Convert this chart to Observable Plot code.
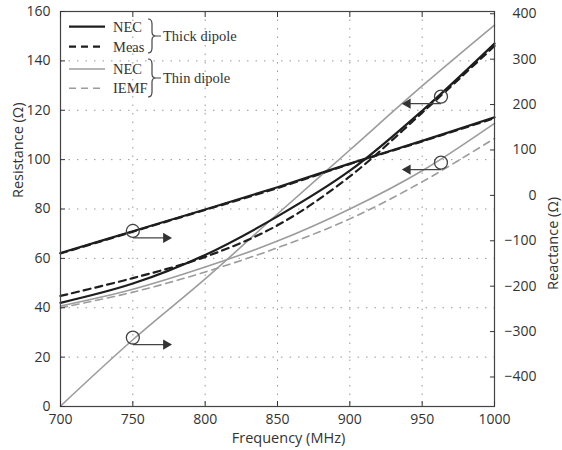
<!DOCTYPE html>
<html><head><meta charset="utf-8">
<script src="https://cdn.jsdelivr.net/npm/d3@7"></script>
<script src="https://cdn.jsdelivr.net/npm/@observablehq/plot@0.6"></script>
<style>body{margin:0;background:#fff;}</style>
</head><body><div id="chart"></div>
<script>
// Frequency samples (MHz)
const freq = [700, 750, 800, 850, 900, 950, 1000];
// Resistance (Ω), left axis
const thickResNEC  = [42, 49.8, 61.4, 77, 95.5, 119.8, 147];
const thickResMeas = [44.8, 52, 60.6, 73.4, 93.2, 119, 146];
const thinResNEC   = [40.7, 47.5, 56.5, 67, 80, 95.5, 114.7];
const thinResIEMF  = [40, 46.3, 54.5, 64.3, 76, 91, 108.6];
// Reactance (Ω), right axis
const thickReactNEC  = [-127, -79, -31, 18, 70, 120, 172];
const thickReactMeas = [-128, -80, -32, 16, 69, 119, 170];
const thinReactNEC   = [-464, -318, -184, -41, 100, 241, 375];

// Axis ticks
const xTicks = [700, 750, 800, 850, 900, 950, 1000];
const resTicks = [0, 20, 40, 60, 80, 100, 120, 140, 160];
const reactTicks = [-400, -300, -200, -100, 0, 100, 200, 300, 400];
const resDomain = [0, 160];
const reactDomain = [-465, 405];

// Axis pointer annotations (frequency, value on resistance scale, arrow end frequency)
const annFreq  = [750, 750, 963, 963];
const annValue = [71.1, 27.9, 125.5, 98.8];
const annEnd   = [773, 773, 940, 940];

// Legend
const legendLabels = ["NEC", "Meas", "NEC", "IEMF"];
const groupLabels = ["Thick dipole", "Thin dipole"];

const toLeft = r => resDomain[0] + (r - reactDomain[0]) * (resDomain[1] - resDomain[0]) / (reactDomain[1] - reactDomain[0]);
const series = (vals, react) => freq.map((f, i) => ({f, v: react ? toLeft(vals[i]) : vals[i]}));
const ann = annFreq.map((f, i) => ({f, v: annValue[i], e: annEnd[i]}));
const fmt = v => v < 0 ? "\u2212" + Math.abs(v) : String(v);

const BLACK = "#1e1e1e", GRAY = "#9c9c9c";

const svg = Plot.plot({
  width: 562, height: 450,
  marginLeft: 60, marginRight: 68, marginTop: 11, marginBottom: 44,
  x: {domain: [700, 1000]},
  y: {domain: resDomain},
  style: {fontFamily: "'Open Sans', sans-serif", fontSize: "14px", color: "#333", background: "#fff", overflow: "visible"},
  marks: [
    Plot.gridX(xTicks, {stroke: "#999", strokeOpacity: 1, strokeDasharray: "1.5,7"}),
    Plot.gridY(resTicks, {stroke: "#999", strokeOpacity: 1, strokeDasharray: "1.5,7"}),
    Plot.line(series(thinReactNEC, true), {x: "f", y: "v", curve: "catmull-rom", stroke: GRAY, strokeWidth: 1.6}),
    Plot.line(series(thinResNEC), {x: "f", y: "v", curve: "catmull-rom", stroke: GRAY, strokeWidth: 1.6}),
    Plot.line(series(thinResIEMF), {x: "f", y: "v", curve: "catmull-rom", stroke: GRAY, strokeWidth: 1.6, strokeDasharray: "7,5"}),
    Plot.line(series(thickReactNEC, true), {x: "f", y: "v", curve: "catmull-rom", stroke: BLACK, strokeWidth: 2.2}),
    Plot.line(series(thickResNEC), {x: "f", y: "v", curve: "catmull-rom", stroke: BLACK, strokeWidth: 2.2}),
    Plot.line(series(thickReactMeas, true), {x: "f", y: "v", curve: "catmull-rom", stroke: BLACK, strokeWidth: 2.2, strokeDasharray: "7,5"}),
    Plot.line(series(thickResMeas), {x: "f", y: "v", curve: "catmull-rom", stroke: BLACK, strokeWidth: 2.2, strokeDasharray: "7,5"}),
    Plot.dot(ann, {x: "f", y: "v", r: 6.5, stroke: "#444", strokeWidth: 1.3, fill: "none"}),
    Plot.link(ann, {x1: "f", x2: "e", y1: "v", y2: "v", dy: 7, stroke: "#444", strokeWidth: 1.3}),
    Plot.dot(ann, {x: "e", y: "v", dy: 7, symbol: "triangle", rotate: d => d.e > d.f ? 90 : -90, r: 3.8, fill: "#333", stroke: "none"}),
    Plot.frame({stroke: "#444", strokeWidth: 1.2}),
    Plot.axisX(xTicks, {tickSize: -5, tickPadding: 13, tickFormat: d => String(d), label: null}),
    Plot.axisX(xTicks, {anchor: "top", tickSize: -5, tickFormat: () => "", label: null}),
    Plot.axisY(resTicks, {tickSize: -5, tickPadding: 15, tickFormat: d => String(d), label: null}),
    Plot.axisY(reactTicks.map(toLeft), {anchor: "right", tickSize: -5, tickFormat: () => "", label: null}),
    Plot.text(reactTicks, {frameAnchor: "right", y: r => toLeft(r), text: fmt, textAnchor: "end", dx: 42}),
    Plot.text(["Frequency (MHz)"], {frameAnchor: "bottom", dx: 11, dy: 36, fontSize: 14.5}),
    Plot.text(["Resistance (\u03A9)"], {frameAnchor: "left", rotate: -90, dx: -42, dy: -11, fontSize: 14.5}),
    Plot.text(["Reactance (\u03A9)"], {frameAnchor: "right", rotate: -90, dx: 59, dy: -12, fontSize: 14.5})
  ]
});

// Legend inside the plot (upper left)
const lg = d3.select(svg).append("g")
  .attr("font-family", "'Liberation Serif', serif").attr("font-size", 14.5).attr("fill", "#333")
  .attr("text-anchor", "start");
const rows = [
  {y: 26.7, stroke: BLACK, w: 2.2, dash: null},
  {y: 46.7, stroke: BLACK, w: 2.2, dash: "7,5"},
  {y: 69, stroke: GRAY, w: 1.6, dash: null},
  {y: 88.3, stroke: GRAY, w: 1.6, dash: "7,5"}
];
rows.forEach((r, i) => {
  lg.append("line").attr("x1", 69).attr("x2", 105).attr("y1", r.y).attr("y2", r.y)
    .attr("stroke", r.stroke).attr("stroke-width", r.w).attr("stroke-dasharray", r.dash);
  lg.append("text").attr("x", 113).attr("y", r.y).attr("dy", "0.35em").text(legendLabels[i]);
});
[[19, 53], [59, 97]].forEach(([y0, y1], i) => {
  const m = (y0 + y1) / 2;
  lg.append("path").attr("fill", "none").attr("stroke", "#444").attr("stroke-width", 1.2)
    .attr("d", `M148,${y0} Q152,${y0} 152,${y0 + 5} L152,${m - 4} Q152,${m} 156,${m} Q152,${m} 152,${m + 4} L152,${y1 - 5} Q152,${y1} 148,${y1} M156,${m} L161,${m}`);
  lg.append("text").attr("x", 163).attr("y", m).attr("dy", "0.35em").text(groupLabels[i]);
});

document.getElementById("chart").appendChild(svg);
</script>
</body></html>
